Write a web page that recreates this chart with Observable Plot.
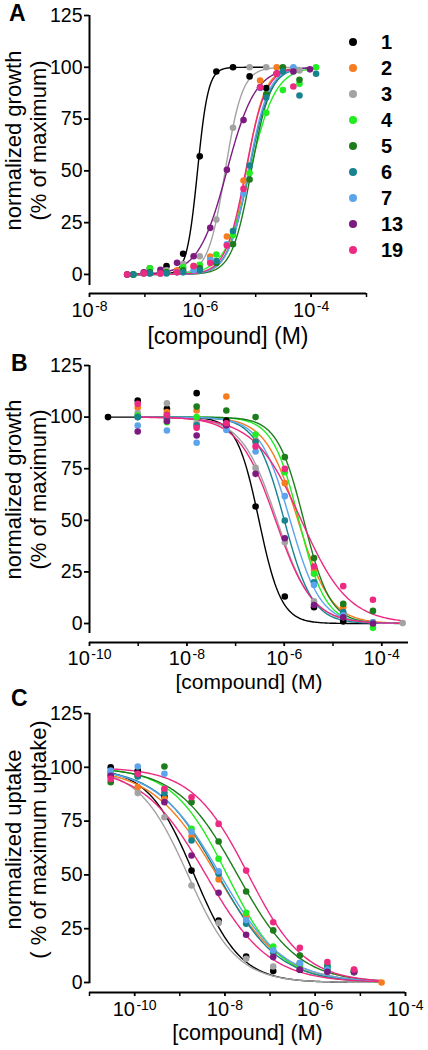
<!DOCTYPE html>
<html><head><meta charset="utf-8">
<script src="https://cdn.jsdelivr.net/npm/d3@7"></script>
<script src="https://cdn.jsdelivr.net/npm/@observablehq/plot@0.6"></script>
<style>
body{margin:0;background:#fff;}
#wrap{position:relative;width:428px;height:1050px;overflow:hidden;font-family:"Liberation Sans",Arial,sans-serif;color:#000;}
.panel{position:absolute;left:0;}
.panel svg{overflow:visible;display:block;}
.letter{position:absolute;font-weight:bold;font-size:23px;line-height:1;}
#legend{position:absolute;left:349px;top:29px;}
.row{display:flex;align-items:center;height:26px;}
.dot{width:8px;height:8px;border-radius:50%;margin-right:24px;}
.lab{font-weight:bold;font-size:20px;line-height:1;}
</style></head>
<body><div id="wrap"></div>
<script>
// ---------- data ----------
const compounds = ["1","2","3","4","5","6","7","13","19"];
const colors = ["#000000","#f77b1f","#a3a3a3","#22ec22","#1d7d1d","#18838f","#5ca4ec","#7c1a80","#ec2a82"];
const lineColorsA = colors;
const lineColorsBC = ["#000000","#f77b1f","#a3a3a3","#22ec22","#1d7d1d","#18838f","#5ca4ec","#ec2a82","#ec2a82"];

// Panel A (log10 molar concentrations, normalized growth %)
const gridA_late  = [-7.21,-6.91,-6.61,-6.31,-6.01,-5.71,-5.41,-5.11,-4.81,-4.51,-4.21,-3.91];
const gridA_early = [-7.32,-7.02,-6.72,-6.42,-6.12,-5.82,-5.52,-5.22,-4.92,-4.62,-4.32,-4.02];
const concA = [gridA_late, gridA_early, gridA_late, gridA_late, gridA_late, gridA_late, gridA_early, gridA_early, gridA_early];
const growthA = [
  [0,2.8,4,10,57,98,100,95.6,90,null,null,null],
  [0,0.4,0.4,2,4,8.6,18.3,45.3,93.6,100,99,null],
  [0,0.5,2,5,8.8,26.5,70.8,100,100,99,98.5,null],
  [0,3,1,3.5,4.7,9.6,19,49,78,89,92,100],
  [0,1,1,2,3,5.5,14.6,45.8,87,100,94,null],
  [0,0.5,0.5,1,2,6.5,21,52.6,85.4,98,86.4,96.9],
  [0,0.5,0.5,1,2,7,14.5,38.9,90,97,100,null],
  [0,1,2.2,5.6,8.8,22.5,50.5,74.5,90.4,97,98,99],
  [0,0.5,0.5,1,4,5.5,14,41.3,90.4,97,90.7,null]
];
const logEC50A = [-6.05,-5.17,-5.55,-5.1,-5.08,-5.12,-5.13,-5.52,-5.18];
const hillA    = [4.5,2.6,2.8,1.9,2.5,2.3,2.4,1.7,2.4];

// Panel B
const gridB = [-9.62,-9.01,-8.41,-7.8,-7.19,-6.59,-5.99,-5.39,-4.79,-4.18,-3.57];
const growthB = [
  [100,108,104,111.6,98.3,56.7,13.1,7.9,1,0.3,null],
  [null,104.5,102.4,103.2,110,88.3,68,25.7,7.9,0.5,null],
  [null,102,106.7,97,95,75.4,39.4,10.7,3.1,0.5,0.2],
  [null,100.8,97.5,100,96.7,91.6,73.3,24.1,4,-2.1,null],
  [null,100,101,105.1,103.2,100,80.6,31.7,9.5,6.1,null],
  [null,100,99,96,96,88,49.9,20,5.5,0.5,null],
  [null,95.9,93.5,87.6,93.8,83.3,61.7,18.7,4,0.5,null],
  [null,93,98,91.1,96,72.5,41.3,9,3,0,null],
  [null,106.4,101,94.8,97,85.8,74.9,27.6,18.1,11.5,null]
];
const logIC50B = [-6.52,-5.72,-6.15,-5.7,-5.6,-6.0,-5.88,-6.18,-5.65];
const hillB    = [1.9,1.3,1.2,1.6,1.6,1.5,1.4,1.15,0.9];
const fitRangeB = [[-9.62,-4.18],[-9.01,-3.57],[-9.01,-3.57],[-9.01,-3.57],[-9.01,-3.57],[-9.01,-3.57],[-9.01,-3.57],[-9.01,-3.57],[-9.01,-3.57]];

// Panel C
const gridC = [-10.53,-9.93,-9.34,-8.74,-8.14,-7.53,-6.93,-6.34,-5.73,-5.14,-4.53];
const uptakeC = [
  [100,98.5,86.4,52,28.8,12.1,5.3,5.9,5.1,4.8,null],
  [96,90.8,85.4,67.8,47.9,30.4,14.1,8.4,6,5.9,0],
  [97,88,76.8,45.1,27.7,11,7.4,6.5,5,null,null],
  [97,96,89.7,71.4,57.5,32.4,16.7,8,7,5,null],
  [93.1,96,100.4,83.8,65.5,42.3,24.2,12.5,7.9,5.5,null],
  [98,95.7,88,66,50.5,27.3,14,9,7,5,null],
  [98.5,100.4,97,70,51.7,29,15,9,6,5,null],
  [96,97,83.8,59,41.7,22.2,11.8,6,5,5,null],
  [94.6,97,90,86.1,73.7,52,28,16.1,9.5,6,null]
];
const logIC50C = [-8.68,-8.18,-8.82,-7.95,-7.72,-8.15,-8.1,-8.42,-7.48];
const hillC    = [0.85,0.6,0.8,0.72,0.65,0.65,0.62,0.62,0.7];

const yTicks = [0,25,50,75,100,125];

// ---------- drawing ----------
function hillFn(lx, ec, h, rising) {
  return rising ? 100/(1+Math.pow(10,(ec-lx)*h)) : 100/(1+Math.pow(10,(lx-ec)*h));
}

function makePanel(cfg) {
  const pts = [], curves = [];
  compounds.forEach((c, i) => {
    const grid = cfg.conc[i];
    cfg.vals[i].forEach((v, j) => { if (v != null) pts.push({id: c, lx: grid[j], v, color: colors[i]}); });
    const [lo, hi] = cfg.range[i];
    const n = 200;
    for (let k = 0; k <= n; k++) {
      const lx = lo + (hi - lo) * k / n;
      curves.push({id: c, lx, v: hillFn(lx, cfg.ec[i], cfg.h[i], cfg.rising), color: cfg.lineColors[i]});
    }
  });
  const decades = d3.range(cfg.dec[0], cfg.dec[1] + 1);
  const labeled = decades.filter(d => d % 2 === 0);
  const font = "Liberation Sans, Arial, sans-serif";
  const svg = Plot.plot({
    width: 428, height: cfg.height,
    marginLeft: 89, marginRight: cfg.mr, marginTop: cfg.mt, marginBottom: cfg.mb,
    x: {type: "log", domain: cfg.xDomain},
    y: {domain: cfg.yDomain},
    color: {type: "identity"},
    style: {fontFamily: font, fontSize: "19px", color: "black", background: "transparent", overflow: "visible"},
    marks: [
      Plot.ruleY([cfg.yDomain[0]], {stroke: "black", strokeWidth: 2}),
      Plot.ruleX([cfg.xDomain[0]], {y1: cfg.yAxisBottom, y2: 125, stroke: "black", strokeWidth: 2}),
      Plot.axisY({ticks: yTicks, tickSize: 5, tickPadding: 2, fontSize: 19.5, label: null, strokeWidth: 1.8}),
      Plot.axisX({ticks: decades.map(d => Math.pow(10, d)), tickSize: 4, tickFormat: () => "", label: null, strokeWidth: 1.5}),
      Plot.axisX({ticks: labeled.map(d => Math.pow(10, d)), tickSize: 4, tickPadding: cfg.tickPad, fontSize: 20, label: null, strokeWidth: 1.5,
                  tickFormat: d => "10^" + Math.round(Math.log10(d))}),
      Plot.line(curves, {x: d => Math.pow(10, d.lx), y: "v", z: "id", stroke: "color", strokeWidth: 1.4}),
      Plot.dot(pts, {x: d => Math.pow(10, d.lx), y: "v", fill: "color", r: 3.3}),
      Plot.text([cfg.ylabel], {frameAnchor: "left", rotate: -90, dx: -64, dy: cfg.ylabelDy, textAnchor: "middle", lineAnchor: "middle", lineHeight: 1.14, fontSize: 22}),
      Plot.text(["[compound] (M)"], {frameAnchor: "bottom", dy: cfg.xlabelDy, textAnchor: "middle", lineAnchor: "middle", fontSize: cfg.xlabelSize})
    ]
  });
  // superscript exponents on decade labels
  svg.querySelectorAll('g[aria-label="x-axis tick label"] text').forEach(t => {
    const s = t.textContent;
    if (!s.includes("^")) return;
    const [base, exp] = s.split("^");
    t.textContent = "";
    const ns = "http://www.w3.org/2000/svg";
    const a = document.createElementNS(ns, "tspan"); a.textContent = base; t.appendChild(a);
    const b = document.createElementNS(ns, "tspan"); b.textContent = exp;
    b.setAttribute("font-size", "14px"); b.setAttribute("dy", "-0.4em"); b.setAttribute("dx", "1.5");
    t.appendChild(b);
  });
  const div = document.createElement("div");
  div.className = "panel"; div.style.top = cfg.top + "px";
  div.appendChild(svg);
  document.getElementById("wrap").appendChild(div);
}

makePanel({top: 0, height: 347, mt: 15, mb: 54, mr: 62,
  xDomain: [1e-8, 1e-3], yDomain: [-9.2, 125], yAxisBottom: -5.3, dec: [-8, -3], tickPad: 5,
  conc: concA, vals: growthA, ec: logEC50A, h: hillA, rising: true,
  range: concA.map((g, i) => { const idx = growthA[i].map((v, j) => v == null ? null : j).filter(j => j != null); return [g[idx[0]], g[idx[idx.length - 1]]]; }),
  lineColors: lineColorsA, ylabel: "normalized growth\n(% of maximum)", ylabelDy: -14, xlabelDy: 43, xlabelSize: 23});

makePanel({top: 347, height: 342, mt: 18, mb: 47, mr: 20,
  xDomain: [1e-10, Math.pow(10, -3.45)], yDomain: [-9.2, 125], yAxisBottom: -4.8, dec: [-10, -4], tickPad: 4,
  conc: compounds.map(() => gridB), vals: growthB, ec: logIC50B, h: hillB, rising: false,
  range: fitRangeB, lineColors: lineColorsBC, ylabel: "normalized growth\n(% of maximum)", ylabelDy: -14.5, xlabelDy: 39.5, xlabelSize: 21});

makePanel({top: 689, height: 361, mt: 24, mb: 58, mr: 23,
  xDomain: [1e-11, 1e-4], yDomain: [-4.65, 125], yAxisBottom: -0.6, dec: [-11, -4], tickPad: 5,
  conc: compounds.map(() => gridC), vals: uptakeC, ec: logIC50C, h: hillC, rising: false,
  range: compounds.map(() => [-10.53, -4.53]), lineColors: lineColorsBC,
  ylabel: "normalized uptake\n( % of maximum uptake)", ylabelDy: -13.5, xlabelDy: 41, xlabelSize: 21.5});

// panel letters and legend
const wrap = document.getElementById("wrap");
[["A", 9, 2], ["B", 11, 352], ["C", 11, 687]].forEach(([t, x, y]) => {
  const d = document.createElement("div"); d.className = "letter"; d.textContent = t;
  d.style.left = x + "px"; d.style.top = y + "px"; wrap.appendChild(d);
});
const leg = document.createElement("div"); leg.id = "legend";
compounds.forEach((c, i) => {
  const r = document.createElement("div"); r.className = "row";
  const dot = document.createElement("div"); dot.className = "dot"; dot.style.background = colors[i];
  const lab = document.createElement("div"); lab.className = "lab"; lab.textContent = c;
  r.appendChild(dot); r.appendChild(lab); leg.appendChild(r);
});
wrap.appendChild(leg);
</script></body></html>
